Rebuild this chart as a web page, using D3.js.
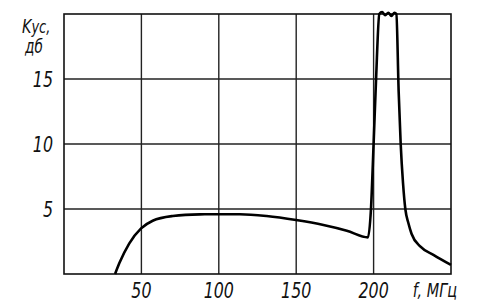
<!DOCTYPE html>
<html><head><meta charset="utf-8">
<script src="https://cdn.jsdelivr.net/npm/d3@7"></script>
<style>
body{margin:0;background:#fff;}
text{font-family:"Liberation Sans Narrow","DejaVu Sans Condensed","Liberation Sans",sans-serif;font-style:italic;fill:#111;}
</style></head>
<body><svg id="c" width="480" height="307"></svg>
<script>
const freq = [33, 35.7, 42.2, 49.8, 57.3, 70.3, 87.6, 99.5, 113.5, 130.9, 149.9, 167.6, 182.7, 196.4, 198.3, 200.0, 201.6, 203.7, 205.5, 207.5, 209.5, 211.5, 213.5, 214.7, 216.2, 217.5, 219.0, 220.5, 222.5, 224.5, 230.3, 238.9, 250];
const gain = [0, 0.82, 2.36, 3.51, 4.1, 4.46, 4.59, 4.6, 4.6, 4.46, 4.15, 3.77, 3.33, 2.82, 5.0, 10.0, 15.0, 20.0, 20.15, 19.9, 20.1, 19.85, 20.1, 20.0, 14.0, 10.0, 7.0, 5.0, 3.9, 3.1, 2.1, 1.46, 0.7];
const xTicks = [50, 100, 150, 200];
const yTicks = [5, 10, 15];
const xLabels = ["50", "100", "150", "200"];
const yLabels = ["5", "10", "15"];
const yTitle1 = "K", yTitle2 = "ус,", yTitle3 = "дб", xTitle = "f, МГц";

const svg = d3.select("#c");
const x = d3.scaleLinear().domain([0, 250]).range([64, 451]);
const y = d3.scaleLinear().domain([0, 20]).range([274, 14]);
const SX = 0.8;

const g = svg.append("g");
// grid
g.selectAll(".vg").data(xTicks).join("line")
  .attr("x1", d => x(d)).attr("x2", d => x(d)).attr("y1", y(0)).attr("y2", y(20))
  .attr("stroke", "#222").attr("stroke-width", 1.4);
g.selectAll(".hg").data(yTicks).join("line")
  .attr("y1", d => y(d)).attr("y2", d => y(d)).attr("x1", x(0)).attr("x2", x(250))
  .attr("stroke", "#222").attr("stroke-width", 1.4);
g.append("rect").attr("x", x(0)).attr("y", y(20)).attr("width", x(250) - x(0)).attr("height", y(0) - y(20))
  .attr("fill", "none").attr("stroke", "#111").attr("stroke-width", 1.6);

// labels
g.selectAll(".xl").data(xTicks).join("text")
  .attr("transform", d => `translate(${x(d)},298) scale(${SX},1)`).attr("text-anchor", "middle")
  .attr("font-size", 22).text((d, i) => xLabels[i]);
g.selectAll(".yl").data(yTicks).join("text")
  .attr("transform", d => `translate(53,${y(d) + 8}) scale(${SX},1)`).attr("text-anchor", "end")
  .attr("font-size", 22).text((d, i) => yLabels[i]);

const t = g.append("text").attr("transform", `translate(22,33) scale(${SX},1)`).attr("font-size", 20);
t.append("tspan").text(yTitle1);
t.append("tspan").attr("font-size", 18).text(yTitle2);
g.append("text").attr("transform", `translate(25,53) scale(${SX},1)`).attr("font-size", 19).text(yTitle3);
g.append("text").attr("transform", `translate(457,297) scale(${SX},1)`).attr("text-anchor", "end").attr("font-size", 20).text(xTitle);

// curve
const pts = freq.map((f, i) => [f, gain[i]]);
const line = d3.line().x(d => x(d[0])).y(d => y(d[1])).curve(d3.curveMonotoneX);
g.append("path").attr("d", line(pts)).attr("fill", "none")
  .attr("stroke", "#000").attr("stroke-width", 2.6).attr("stroke-linejoin", "round");
</script></body></html>
